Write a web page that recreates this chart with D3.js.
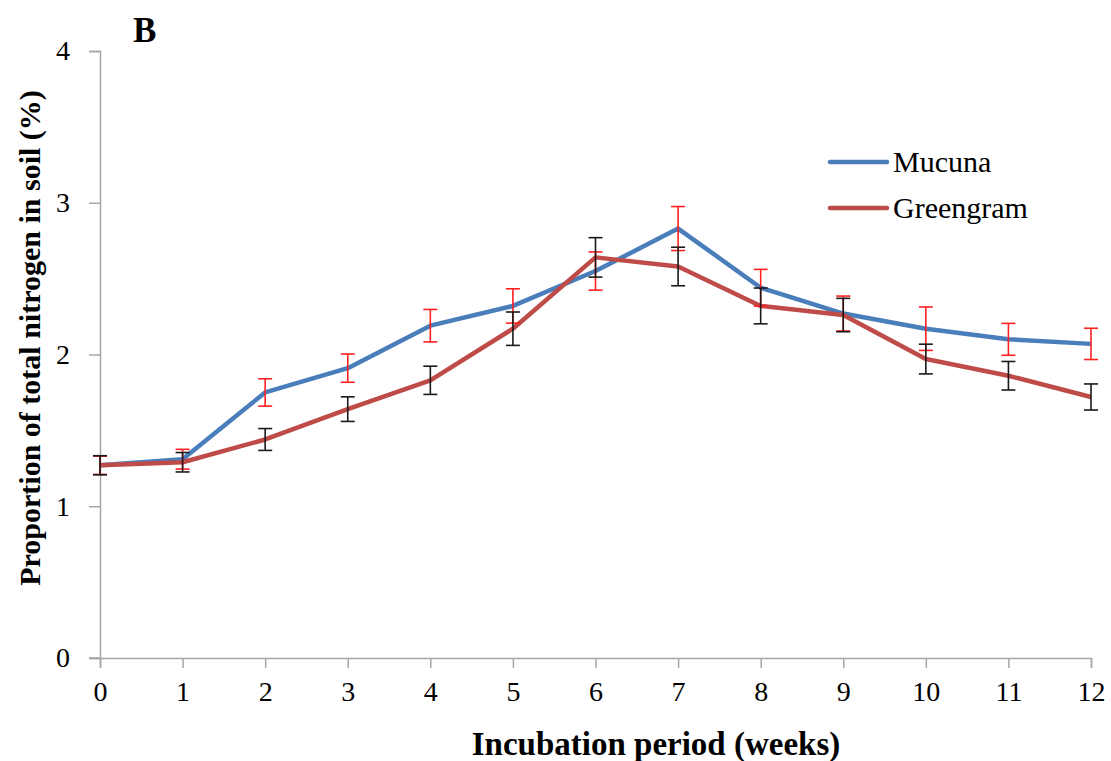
<!DOCTYPE html>
<html>
<head>
<meta charset="utf-8">
<script src="https://cdn.jsdelivr.net/npm/d3@7"></script>
<style>
body { margin: 0; background: #fff; }
text { font-family: "Liberation Serif", "Times New Roman", serif; }
</style>
</head>
<body>
<script>
// data
var weeks = [0, 1, 2, 3, 4, 5, 6, 7, 8, 9, 10, 11, 12];
var mucuna = [1.27, 1.31, 1.75, 1.91, 2.19, 2.32, 2.55, 2.83, 2.44, 2.27, 2.17, 2.10, 2.07];
var mucunaErr = [0.06, 0.065, 0.09, 0.093, 0.107, 0.113, 0.126, 0.145, 0.121, 0.115, 0.143, 0.105, 0.103];
var greengram = [1.27, 1.29, 1.44, 1.64, 1.83, 2.17, 2.64, 2.58, 2.32, 2.26, 1.97, 1.86, 1.72];
var greengramErr = [0.063, 0.064, 0.072, 0.081, 0.093, 0.11, 0.13, 0.127, 0.118, 0.11, 0.098, 0.094, 0.086];
var yTicks = [0, 1, 2, 3, 4];
var seriesNames = ["Mucuna", "Greengram"];

var width = 1111, height = 761;
var plotLeft = 100, plotRight = 1091, plotTop = 51, plotBottom = 658;

var svg = d3.select("body").append("svg")
  .attr("width", width)
  .attr("height", height);

var x = d3.scaleLinear().domain([0, 12]).range([plotLeft, plotRight]);
var y = d3.scaleLinear().domain([0, 4]).range([plotBottom, plotTop]);

// axes
var yAxis = svg.append("g")
  .attr("transform", "translate(" + plotLeft + ",0)")
  .call(d3.axisLeft(y).tickValues(yTicks).tickSize(11).tickPadding(19).tickFormat(d3.format("d")));
var xAxis = svg.append("g")
  .attr("transform", "translate(0," + plotBottom + ")")
  .call(d3.axisBottom(x).tickValues(weeks).tickSize(10).tickPadding(13).tickFormat(d3.format("d")));

[yAxis, xAxis].forEach(function (a) {
  a.select(".domain").attr("stroke", "#a6a6a6").attr("stroke-width", 1.5);
  a.selectAll(".tick line").attr("stroke", "#a6a6a6").attr("stroke-width", 1.5);
  a.selectAll(".tick text").attr("fill", "#000").style("font-size", "28px")
    .style("font-family", "'Liberation Serif', serif");
});
// extend x axis line left like the original
xAxis.append("line")
  .attr("x1", plotLeft - 11).attr("x2", plotLeft)
  .attr("y1", 0).attr("y2", 0)
  .attr("stroke", "#a6a6a6").attr("stroke-width", 1.5);

var line = d3.line()
  .x(function (d, i) { return x(weeks[i]); })
  .y(function (d) { return y(d); });

function errorBars(vals, errs, color) {
  var g = svg.append("g").attr("stroke", color).attr("stroke-width", 1.6).attr("fill", "none");
  vals.forEach(function (v, i) {
    var cx = x(weeks[i]);
    var y1 = y(v + errs[i]), y2 = y(v - errs[i]);
    g.append("line").attr("x1", cx).attr("x2", cx).attr("y1", y1).attr("y2", y2);
    g.append("line").attr("x1", cx - 7).attr("x2", cx + 7).attr("y1", y1).attr("y2", y1);
    g.append("line").attr("x1", cx - 7).attr("x2", cx + 7).attr("y1", y2).attr("y2", y2);
  });
}

svg.append("path").datum(mucuna)
  .attr("d", line).attr("fill", "none")
  .attr("stroke", "#4a7ebb").attr("stroke-width", 4.5).attr("stroke-linejoin", "round");
svg.append("path").datum(greengram)
  .attr("d", line).attr("fill", "none")
  .attr("stroke", "#be4b48").attr("stroke-width", 4.5).attr("stroke-linejoin", "round");

errorBars(mucuna, mucunaErr, "#ff2020");
errorBars(greengram, greengramErr, "#1a1a1a");

// legend
var legColors = ["#4a7ebb", "#be4b48"];
seriesNames.forEach(function (n, i) {
  var ly = 162 + i * 46;
  svg.append("line").attr("x1", 830).attr("x2", 887).attr("y1", ly).attr("y2", ly)
    .attr("stroke", legColors[i]).attr("stroke-width", 4.5).attr("stroke-linecap", "round");
  svg.append("text").attr("x", 893).attr("y", ly + 10).style("font-size", "30px").text(n);
});

// titles
svg.append("text").attr("x", 133).attr("y", 42)
  .style("font-size", "35px").style("font-weight", "bold").text("B");

svg.append("text")
  .attr("transform", "translate(40,338) rotate(-90)")
  .attr("text-anchor", "middle")
  .style("font-size", "30px").style("font-weight", "bold")
  .text("Proportion of total nitrogen in soil (%)");

svg.append("text")
  .attr("x", 656).attr("y", 755)
  .attr("text-anchor", "middle")
  .style("font-size", "33px").style("font-weight", "bold")
  .text("Incubation period (weeks)");
</script>
</body>
</html>
